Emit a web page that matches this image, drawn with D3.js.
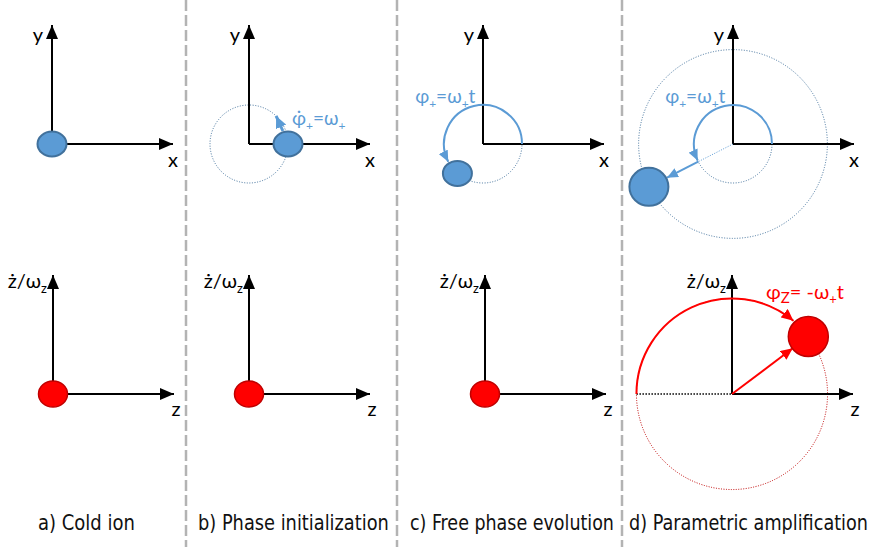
<!DOCTYPE html>
<html><head><meta charset="utf-8">
<script src="https://cdn.jsdelivr.net/npm/d3@7"></script>
<style>
html,body{margin:0;padding:0;background:#fff;}
svg{display:block;}
</style></head>
<body>
<script>
// ---------- data ----------
const panelLabels = ["a) Cold ion", "b) Phase initialization", "c) Free phase evolution", "d) Parametric amplification"];
const radialAxisLabels = ["x", "y"];
const axialAxisLabels = ["z", "ż/ω", "z"]; // z-axis, vertical label + subscript
// radial ion state per panel: amplitude (units of initial radius) and phase (deg)
const radialAmplitude = [0, 1, 1, 2.42];
const radialPhaseDeg = [0, 0, 229, 207];
// axial ion state per panel
const axialAmplitude = [0, 0, 0, 2.45];
const axialPhaseDeg = [0, 0, 0, 37];
// phase-evolution arc end (deg) for panels c,d and the axial arc in d
const phaseArcEndDeg = [null, null, 207, 205];
const axialArcDeg = [180, 50];
// initialization kick in panel b: from (amp, phase) to (amp, phase)
const kickFrom = [0.93, 21], kickTo = [1.0, 46];
const dividerPanels = [1, 2, 3];

// ---------- layout ----------
const W = 876, H = 547;
const topY = 144, botY = 394;
const originsTop = [52, 249, 483, 733];
const originsBot = [53, 249, 485, 732];
const dividerX = [186, 397, 622];
const labelX = [[38, 135], [198, 389], [410, 614], [629, 868]];
const BLUE = "#5b9bd5", BLUE_D = "#41719c", RED = "#ff0000", RED_D = "#c00000";

const r = d3.scaleLinear().domain([0, 1]).range([0, 39]);
const axX = d3.scaleLinear().domain([0, 1]).range([0, 121]);
const axY = d3.scaleLinear().domain([0, 1]).range([0, 119]);

const svg = d3.select("body").append("svg").attr("width", W).attr("height", H)
  .style("font-family", "Lato, 'Open Sans', sans-serif");

const defs = svg.append("defs");
function marker(id, color, len, wid) {
  defs.append("marker").attr("id", id).attr("markerUnits", "userSpaceOnUse")
    .attr("viewBox", `0 0 ${len} ${wid}`).attr("markerWidth", len).attr("markerHeight", wid)
    .attr("refX", len).attr("refY", wid / 2).attr("orient", "auto")
    .append("path").attr("d", `M0,0L${len},${wid / 2}L0,${wid}Z`).attr("fill", color);
}
marker("axArrow", "#000", 14, 12);
marker("blueArrow", BLUE, 11, 10);
marker("blueArrowB", BLUE, 12, 11);
marker("redArrow", RED, 12, 11);

function polar(cx, cy, amp, deg) {
  const a = deg * Math.PI / 180;
  return [cx + r(amp) * Math.cos(a), cy - r(amp) * Math.sin(a)];
}
function arcPath(cx, cy, amp, d0, d1) {
  const p0 = polar(cx, cy, amp, d0), p1 = polar(cx, cy, amp, d1);
  const large = Math.abs(d1 - d0) > 180 ? 1 : 0;
  const sweep = d1 > d0 ? 0 : 1;
  return `M${p0[0]},${p0[1]}A${r(amp)},${r(amp)} 0 ${large} ${sweep} ${p1[0]},${p1[1]}`;
}

// ---------- dividers ----------
svg.selectAll("line.div").data(dividerPanels).join("line")
  .attr("x1", (d, i) => dividerX[i]).attr("x2", (d, i) => dividerX[i])
  .attr("y1", 0).attr("y2", H)
  .attr("stroke", "#b3b3b3").attr("stroke-width", 2.5).attr("stroke-dasharray", "11,4");

// ---------- top row (radial) ----------
panelLabels.forEach((lab, i) => {
  const cx = originsTop[i], cy = topY;
  const g = svg.append("g");
  if (radialAmplitude[i] > 1) {
    g.append("circle").attr("cx", cx).attr("cy", cy).attr("r", r(radialAmplitude[i]))
      .attr("fill", "none").attr("stroke", BLUE_D).attr("stroke-width", 1).attr("stroke-dasharray", "1,1.6");
  }
  if (radialAmplitude[i] > 0) {
    const end = phaseArcEndDeg[i];
    if (end == null) {
      g.append("circle").attr("cx", cx).attr("cy", cy).attr("r", r(1))
        .attr("fill", "none").attr("stroke", BLUE_D).attr("stroke-width", 1).attr("stroke-dasharray", "1,1.6");
    } else {
      g.append("path").attr("d", arcPath(cx, cy, 1, end, 360)).attr("fill", "none")
        .attr("stroke", BLUE_D).attr("stroke-width", 1).attr("stroke-dasharray", "1,1.6");
    }
  }
  g.append("line").attr("x1", cx).attr("y1", cy).attr("x2", cx + axX(1)).attr("y2", cy)
    .attr("stroke", "#000").attr("stroke-width", 2).attr("marker-end", "url(#axArrow)");
  g.append("line").attr("x1", cx).attr("y1", cy).attr("x2", cx).attr("y2", cy - axY(1))
    .attr("stroke", "#000").attr("stroke-width", 2).attr("marker-end", "url(#axArrow)");
  g.append("text").attr("x", cx + axX(1)).attr("y", cy + 23).attr("text-anchor", "middle")
    .attr("font-size", 20).text(radialAxisLabels[0]);
  g.append("text").attr("x", cx - 14).attr("y", cy - axY(1) + 17).attr("text-anchor", "middle")
    .attr("font-size", 20).text(radialAxisLabels[1]);

  if (phaseArcEndDeg[i] != null) {
    g.append("path").attr("d", arcPath(cx, cy, 1, 0, phaseArcEndDeg[i])).attr("fill", "none")
      .attr("stroke", BLUE).attr("stroke-width", 2).attr("marker-end", "url(#blueArrow)");
    const t = g.append("text").attr("x", cx - r(1.74)).attr("y", cy - 41).attr("fill", BLUE).attr("font-size", 19);
    t.append("tspan").text("φ");
    t.append("tspan").attr("font-size", 12).attr("dy", 5).text("+");
    t.append("tspan").attr("dy", -5).text("=ω");
    t.append("tspan").attr("font-size", 12).attr("dy", 5).text("+");
    t.append("tspan").attr("dy", -5).text("t");
  }
  if (radialAmplitude[i] > 1) {
    const ph = radialPhaseDeg[i];
    const p1 = polar(cx, cy, 1, ph);
    g.append("line").attr("x1", cx).attr("y1", cy).attr("x2", p1[0]).attr("y2", p1[1])
      .attr("stroke", BLUE).attr("stroke-width", 1).attr("stroke-dasharray", "1,1.5");
    const p2 = polar(cx, cy, radialAmplitude[i] - 0.52, ph);
    g.append("line").attr("x1", p1[0]).attr("y1", p1[1]).attr("x2", p2[0]).attr("y2", p2[1])
      .attr("stroke", BLUE).attr("stroke-width", 2).attr("marker-end", "url(#blueArrow)");
  }
  if (i === 1) {
    const a = polar(cx, cy, kickFrom[0], kickFrom[1]), b = polar(cx, cy, kickTo[0], kickTo[1]);
    g.append("line").attr("x1", a[0]).attr("y1", a[1]).attr("x2", b[0]).attr("y2", b[1])
      .attr("stroke", BLUE).attr("stroke-width", 3).attr("marker-end", "url(#blueArrowB)");
    const t = g.append("text").attr("x", cx + 43).attr("y", cy - 19).attr("fill", BLUE).attr("font-size", 19);
    t.append("tspan").text("φ\u0307");
    t.append("tspan").attr("font-size", 12).attr("dy", 5).text("+");
    t.append("tspan").attr("dy", -5).text("=ω");
    t.append("tspan").attr("font-size", 12).attr("dy", 5).text("+");
  }
  const ip = polar(cx, cy, radialAmplitude[i], radialPhaseDeg[i]);
  const big = radialAmplitude[i] > 1;
  g.append("ellipse").attr("cx", ip[0]).attr("cy", ip[1])
    .attr("rx", big ? 19.5 : 14.5).attr("ry", big ? 19 : 12.5)
    .attr("fill", BLUE).attr("stroke", BLUE_D).attr("stroke-width", 2);
});

// ---------- bottom row (axial) ----------
panelLabels.forEach((lab, i) => {
  const cx = originsBot[i], cy = botY;
  const g = svg.append("g");
  const amp = axialAmplitude[i];
  if (amp > 0) {
    g.append("circle").attr("cx", cx).attr("cy", cy).attr("r", r(amp))
      .attr("fill", "none").attr("stroke", RED_D).attr("stroke-width", 1).attr("stroke-dasharray", "1,1.5");
    const left = polar(cx, cy, amp, 180);
    g.append("line").attr("x1", left[0]).attr("y1", left[1]).attr("x2", cx).attr("y2", cy)
      .attr("stroke", "#000").attr("stroke-width", 1.5).attr("stroke-dasharray", "1.5,1.5");
  }
  g.append("line").attr("x1", cx).attr("y1", cy).attr("x2", cx + axX(1)).attr("y2", cy)
    .attr("stroke", "#000").attr("stroke-width", 2).attr("marker-end", "url(#axArrow)");
  g.append("line").attr("x1", cx).attr("y1", cy).attr("x2", cx).attr("y2", cy - axY(1))
    .attr("stroke", "#000").attr("stroke-width", 2).attr("marker-end", "url(#axArrow)");
  g.append("text").attr("x", cx + axX(1) + 2).attr("y", cy + 22).attr("text-anchor", "middle")
    .attr("font-size", 20).text(axialAxisLabels[0]);
  const t = g.append("text").attr("x", cx - 6).attr("y", cy - axY(1) + 13).attr("text-anchor", "end")
    .attr("font-size", 20);
  t.append("tspan").text(axialAxisLabels[1]);
  t.append("tspan").attr("font-size", 13).attr("dy", 5).text(axialAxisLabels[2]);

  if (amp > 0) {
    g.append("path").attr("d", arcPath(cx, cy, amp, axialArcDeg[0], axialArcDeg[1])).attr("fill", "none")
      .attr("stroke", RED).attr("stroke-width", 2).attr("marker-end", "url(#redArrow)");
    const pe = polar(cx, cy, amp - 0.5, axialPhaseDeg[i]);
    g.append("line").attr("x1", cx).attr("y1", cy).attr("x2", pe[0]).attr("y2", pe[1])
      .attr("stroke", RED).attr("stroke-width", 2).attr("marker-end", "url(#redArrow)");
    const lt = g.append("text").attr("x", cx + 34).attr("y", cy - 95).attr("fill", RED).attr("font-size", 20);
    lt.append("tspan").text("φ");
    lt.append("tspan").attr("font-size", 15).attr("dy", 4).text("Z");
    lt.append("tspan").attr("dy", -4).text("= -ω");
    lt.append("tspan").attr("font-size", 13).attr("dy", 5).text("+");
    lt.append("tspan").attr("dy", -5).text("t");
  }
  const ip = polar(cx, cy, amp, axialPhaseDeg[i]);
  const big = amp > 0;
  g.append("ellipse").attr("cx", ip[0]).attr("cy", ip[1])
    .attr("rx", big ? 20 : 14.5).attr("ry", big ? 20 : 13)
    .attr("fill", RED).attr("stroke", RED_D).attr("stroke-width", 1.5);
});

// ---------- panel captions (horizontally scaled to fit each panel) ----------
svg.selectAll("text.cap").data(panelLabels).join("text").attr("class", "cap")
  .attr("font-family", "'Liberation Sans Narrow', 'DejaVu Sans Condensed', 'DejaVu Sans', sans-serif")
  .attr("font-size", 22).attr("fill", "#111")
  .text(d => d)
  .each(function (d, i) {
    const natural = this.getComputedTextLength();
    const sx = (labelX[i][1] - labelX[i][0]) / natural;
    d3.select(this).attr("transform", `translate(${labelX[i][0]},530) scale(${sx},1)`);
  });
</script>
</body></html>
